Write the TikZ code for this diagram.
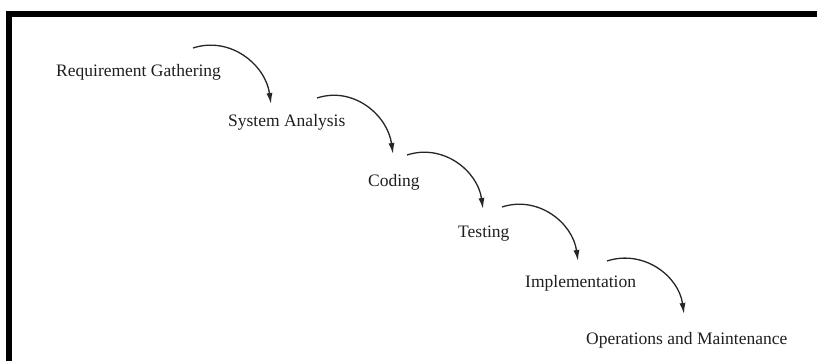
\documentclass[tikz,border=0pt]{standalone}
\usepackage{fontspec}
\setmainfont{Liberation Serif}
\usetikzlibrary{arrows.meta}
\begin{document}
\begin{tikzpicture}[x=1pt,y=-1pt,
  lbl/.style={anchor=base west,inner sep=0pt,text=black!88,font=\fontsize{17.5}{21}\selectfont},
  flow/.style={line width=1.3pt,draw=black!85,-{Latex[length=11pt,width=6pt]},out=18,in=98,looseness=1.05}]
\useasboundingbox (0,0) rectangle (817,361);
\fill[white] (0,0) rectangle (817,361);
% frame
\draw[line width=6pt,line join=miter] (9,361) -- (9,14) -- (817,14);
% stages
\node[lbl] (rg) at (56,77) {Requirement Gathering};
\node[lbl] (sa) at (228,126) {System Analysis};
\node[lbl] (cd) at (368,186) {Coding};
\node[lbl] (ts) at (458,237) {Testing};
\node[lbl] (im) at (525,287) {Implementation};
\node[lbl] (om) at (586,344) {Operations and Maintenance};
% connector ends
\coordinate (rg-out) at (193,48);  \coordinate (sa-in) at (271,104);
\coordinate (sa-out) at (317,98);  \coordinate (cd-in) at (393,154);
\coordinate (cd-out) at (407,155); \coordinate (ts-in) at (483,209);
\coordinate (ts-out) at (502,207); \coordinate (im-in) at (578,261);
\coordinate (im-out) at (607,261); \coordinate (om-in) at (684,314);
\draw[flow] (rg-out) to (sa-in);
\draw[flow] (sa-out) to (cd-in);
\draw[flow] (cd-out) to (ts-in);
\draw[flow] (ts-out) to (im-in);
\draw[flow] (im-out) to (om-in);
\end{tikzpicture}
\end{document}
